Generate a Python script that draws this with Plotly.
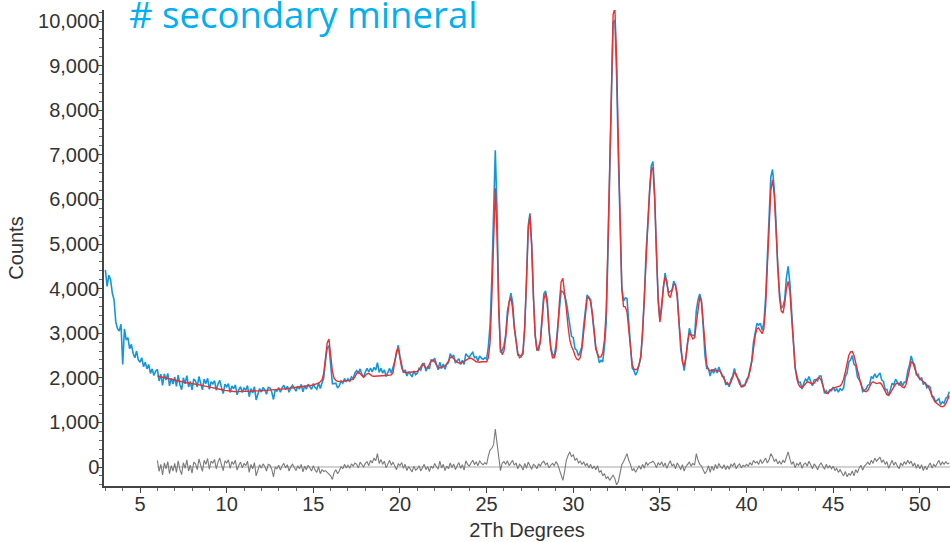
import numpy as np
import plotly.graph_objects as go

# 2-theta grids (step 0.1 deg)
obs_start, calc_start, step = 3.0, 6.0, 0.1

# Observed counts, 3.0 .. 51.7
observed = [
    4420, 4050, 4300, 4200, 3900, 3750, 3250, 3100, 3050, 3200,
    2300, 3100, 2850, 2900, 2650, 2750, 2550, 2450, 2600, 2400,
    2350, 2450, 2250, 2350, 2200, 2300, 2100, 2200, 2050, 2150,
    2190, 1930, 2080, 1830, 2090, 1950, 2100, 1820, 1990, 1860,
    2020, 1810, 2060, 1850, 1735, 2000, 1865, 2050, 1795, 1918,
    1730, 1975, 1930, 1795, 2028, 1860, 1730, 1970, 1870, 1990,
    1740, 1912, 1864, 1936, 1718, 1860, 1942, 1784, 1646, 1858,
    1800, 1866, 1672, 1818, 1754, 1840, 1620, 1730, 1800, 1670,
    1770, 1722, 1824, 1576, 1758, 1660, 1802, 1504, 1646, 1758,
    1680, 1784, 1728, 1632, 1786, 1770, 1682, 1514, 1736, 1698,
    1780, 1674, 1778, 1832, 1736, 1810, 1674, 1778, 1832, 1746,
    1700, 1814, 1748, 1852, 1686, 1820, 1748, 1856, 1804, 1742,
    1870, 1780, 1745, 1890, 1760, 1890, 2000, 2370, 2660, 2720,
    2300, 1870, 1870, 1880, 1770, 1825, 1925, 1880, 1985, 1910,
    1975, 1910, 2020, 1985, 2110, 2160, 2110, 2200, 2080, 2010,
    2130, 2210, 2130, 2220, 2130, 2235, 2175, 2340, 2120, 2215,
    2105, 2180, 2030, 2145, 2210, 2105, 2230, 2370, 2540, 2730,
    2480, 2320, 2110, 2180, 2040, 2135, 2080, 2020, 2155, 2070,
    2100, 2210, 2170, 2290, 2330, 2150, 2240, 2200, 2400, 2370,
    2440, 2300, 2180, 2350, 2210, 2310, 2190, 2320, 2340, 2540,
    2460, 2510, 2330, 2380, 2430, 2300, 2390, 2300, 2540, 2490,
    2460, 2530, 2570, 2450, 2470, 2380, 2490, 2440, 2410, 2450,
    2420, 2700, 3180, 4220, 5800, 7100, 5760, 3650, 2570, 2610,
    2720, 2960, 3490, 3730, 3900, 3700, 3140, 2840, 2510, 2510,
    2490, 2530, 3180, 4170, 5410, 5690, 4950, 3860, 2980, 2610,
    2690, 2820, 3350, 3880, 3950, 3740, 3080, 2690, 2530, 2480,
    2720, 3110, 3650, 3950, 3930, 3850, 3700, 3410, 3190, 2930,
    2900, 2650, 2620, 2490, 2580, 2710, 3160, 3530, 3860, 3790,
    3760, 3410, 3070, 2640, 2550, 2340, 2390, 2360, 2700, 3240,
    4780, 6600, 8450, 9970, 10020, 8800, 6970, 5150, 4050, 3720,
    3790, 3780, 3200, 2660, 2220, 2160, 2060, 2140, 2330, 2450,
    3060, 3770, 4810, 5540, 6290, 6750, 6850, 6080, 4780, 3800,
    3290, 3670, 4060, 4350, 4120, 3910, 3940, 3970, 4170, 4060,
    3890, 3280, 2640, 2400, 2160, 2460, 2860, 3110, 2970, 2950,
    2940, 3500, 3750, 3880, 3720, 3140, 2500, 2210, 2210, 2040,
    2190, 2100, 2220, 2110, 2240, 2140, 2030, 2020, 1840, 1890,
    1800, 1960, 2040, 2210, 2040, 1990, 1930, 1790, 1840, 1840,
    1960, 2020, 2250, 2390, 2800, 3040, 3220, 3180, 3220, 3070,
    3230, 3800, 4590, 5660, 6500, 6670, 6220, 5480, 4470, 3930,
    3560, 3600, 3750, 4240, 4500, 4130, 3410, 2820, 2230, 2060,
    1890, 1900, 1750, 1880, 1970, 1930, 2030, 1920, 1820, 1950,
    1960, 1930, 2040, 2040, 1840, 1650, 1710, 1640, 1730, 1710,
    1790, 1700, 1760, 1680, 1760, 1720, 1770, 2030, 2110, 2350,
    2400, 2500, 2300, 2270, 2020, 1960, 1890, 1690, 1720, 1750,
    1830, 1850, 2030, 1990, 2090, 2000, 2060, 2110, 1950, 1920,
    1730, 1740, 1590, 1740, 1880, 1840, 1970, 1900, 1830, 1920,
    1820, 1900, 1910, 2150, 2280, 2490, 2350, 2290, 2070, 2080,
    1950, 2010, 1850, 1900, 1780, 1820, 1790, 1580, 1570, 1460,
    1500, 1530, 1400, 1460, 1430, 1540, 1570, 1690,
]

# Calculated counts, 6.0 .. 51.7
calculated = [
    2040, 2030, 2020, 2010, 2000, 1990, 1980, 1970, 1960, 1950,
    1940, 1930, 1920, 1910, 1905, 1900, 1895, 1890, 1885, 1878,
    1870, 1865, 1860, 1855, 1848, 1840, 1830, 1820, 1810, 1800,
    1790, 1782, 1774, 1766, 1758, 1750, 1742, 1734, 1726, 1718,
    1710, 1706, 1702, 1698, 1694, 1690, 1690, 1690, 1690, 1690,
    1690, 1692, 1694, 1696, 1698, 1700, 1702, 1704, 1706, 1708,
    1710, 1714, 1718, 1722, 1726, 1730, 1732, 1734, 1736, 1738,
    1740, 1744, 1748, 1752, 1756, 1760, 1764, 1768, 1772, 1776,
    1780, 1784, 1788, 1792, 1796, 1800, 1808, 1816, 1824, 1832,
    1840, 1850, 1865, 1880, 1910, 1950, 2100, 2450, 2780, 2870,
    2500, 2150, 1990, 1940, 1920, 1915, 1915, 1920, 1925, 1930,
    1935, 1940, 1950, 1965, 2020, 2100, 2130, 2090, 2030, 2010,
    2050, 2090, 2100, 2070, 2040, 2035, 2035, 2040, 2040, 2045,
    2045, 2050, 2050, 2055, 2060, 2065, 2120, 2350, 2600, 2660,
    2450, 2220, 2140, 2120, 2120, 2125, 2130, 2130, 2135, 2140,
    2140, 2180, 2260, 2310, 2270, 2210, 2230, 2300, 2380, 2400,
    2360, 2290, 2230, 2220, 2230, 2250, 2270, 2300, 2380, 2450,
    2470, 2440, 2390, 2350, 2330, 2330, 2340, 2370, 2400, 2430,
    2440, 2440, 2420, 2390, 2360, 2350, 2350, 2360, 2360, 2350,
    2360, 2450, 2800, 3800, 5300, 6250, 5200, 3500, 2650, 2520,
    2600, 2900, 3350, 3700, 3800, 3550, 3100, 2750, 2550, 2450,
    2470, 2600, 3100, 4200, 5300, 5650, 5000, 3800, 2950, 2650,
    2620, 2800, 3250, 3750, 3900, 3650, 3100, 2650, 2450, 2450,
    2600, 3050, 3700, 4150, 4230, 3950, 3550, 3150, 2850, 2700,
    2620, 2500, 2420, 2400, 2450, 2650, 3050, 3500, 3780, 3810,
    3700, 3450, 3050, 2700, 2520, 2460, 2470, 2560, 2850, 3500,
    5000, 6900, 8700, 10150, 10280, 9200, 7300, 5300, 4000, 3600,
    3590, 3480, 3050, 2600, 2300, 2200, 2180, 2200, 2300, 2500,
    3000, 3800, 4700, 5500, 6200, 6650, 6720, 6000, 4800, 3700,
    3250, 3550, 4050, 4260, 4150, 3850, 3800, 3950, 4100, 4100,
    3800, 3250, 2700, 2350, 2250, 2450, 2800, 3000, 2950, 2870,
    2900, 3200, 3600, 3820, 3700, 3200, 2650, 2300, 2180, 2160,
    2170, 2180, 2160, 2150, 2160, 2130, 2060, 1970, 1900, 1860,
    1850, 1900, 2020, 2120, 2080, 1960, 1860, 1810, 1800, 1830,
    1900, 2000, 2150, 2350, 2650, 2950, 3100, 3120, 3050, 2990,
    3100, 3600, 4500, 5500, 6200, 6440, 6100, 5300, 4400, 3800,
    3500, 3450, 3650, 4000, 4160, 3950, 3350, 2700, 2250, 1980,
    1850, 1790, 1780, 1820, 1880, 1910, 1900, 1870, 1860, 1880,
    1940, 1990, 2000, 1950, 1830, 1700, 1650, 1660, 1700, 1750,
    1770, 1780, 1790, 1800, 1820, 1870, 1970, 2130, 2330, 2500,
    2580, 2590, 2500, 2330, 2150, 1980, 1850, 1760, 1700, 1690,
    1720, 1800, 1880, 1910, 1890, 1870, 1880, 1890, 1850, 1760,
    1670, 1620, 1620, 1660, 1730, 1800, 1860, 1880, 1870, 1830,
    1790, 1780, 1850, 2000, 2200, 2360, 2330, 2200, 2100, 2020,
    1990, 1960, 1930, 1880, 1840, 1790, 1700, 1600, 1510, 1450,
    1420, 1380, 1360, 1350, 1370, 1420, 1500, 1600,
]

# Difference curve (obs - calc), 6.0 .. 51.7
difference = [
    150, -100, 60, -180, 90, -40, 120, -150, 30, -90,
    80, -120, 140, -60, -170, 100, -30, 160, -90, 40,
    -140, 110, 70, -60, 180, 20, -100, 150, 60, 190,
    -50, 130, 90, 170, -40, 110, 200, 50, -80, 140,
    90, 160, -30, 120, 60, 150, -70, 40, 110, -20,
    80, 30, 130, -120, 60, -40, 100, -200, -60, 50,
    -30, 70, 10, -90, 60, 40, -50, -220, 0, -40,
    40, -70, 30, 80, -20, 50, -90, 10, 60, -30,
    -80, 30, -40, 60, -110, 20, -60, 40, -20, -90,
    30, -70, -120, 10, -150, -60, -100, -80, -120, -150,
    -200, -280, -120, -60, -150, -90, 10, -40, 60, -20,
    40, -30, 70, 20, 90, 60, -20, 110, 50, 0,
    80, 120, 30, 150, 90, 200, 140, 300, 80, 170,
    60, 130, -20, 90, 150, 40, 110, 20, -60, 70,
    30, 100, -30, 60, -80, 10, -50, -110, 20, -70,
    -40, 30, -90, -20, 60, -60, 10, -100, 20, -30,
    80, 10, -50, 130, -20, 60, -80, 20, -40, 90,
    -10, 70, -60, 30, 100, -30, 50, -70, 140, 60,
    20, 90, 150, 60, 110, 30, 140, 80, 50, 100,
    60, 250, 380, 420, 500, 850, 560, 150, -80, 90,
    120, 60, 140, 30, 100, 150, 40, 90, -40, 60,
    20, -70, 80, -30, 110, 40, -50, 60, 30, -40,
    70, 20, 100, 130, 50, 90, -20, 40, 80, 30,
    120, 60, -50, -200, -300, -100, 150, 260, 340, 230,
    280, 150, 200, 90, 130, 60, 110, 30, 80, -20,
    60, -40, 20, -60, 30, -120, -80, -200, -150, -260,
    -220, -300, -250, -180, -260, -400, -330, -150, 50, 120,
    200, 300, 150, 60, -80, -40, -120, -60, 30, -50,
    60, -30, 110, 40, 90, 100, 130, 80, -20, 100,
    40, 120, 10, 90, -30, 60, 140, 20, 70, -40,
    90, 30, -60, 50, -90, 10, 60, 110, 20, 80,
    40, 300, 150, 60, 20, -60, -150, -90, 30, -120,
    20, -80, 60, -40, 80, 10, -30, 50, -60, 30,
    -50, 60, 20, 90, -40, 30, 70, -20, 40, 10,
    60, 20, 100, 40, 150, 90, 120, 60, 170, 80,
    130, 200, 90, 160, 300, 230, 120, 180, 70, 130,
    60, 150, 100, 240, 340, 180, 60, 120, -20, 80,
    40, 110, -30, 60, 90, 20, 130, 50, -40, 70,
    20, -60, 40, 90, 10, -50, 60, -20, 30, -40,
    20, -80, -30, -120, -60, -150, -200, -100, -220, -150,
    -180, -90, -200, -60, -130, -20, 40, -70, 20, 60,
    110, 50, 150, 80, 200, 130, 180, 220, 100, 160,
    60, 120, -30, 80, 150, 40, 110, 20, -40, 90,
    30, 120, 60, 150, 80, 130, 20, 90, -30, 60,
    -40, 50, -80, 20, -60, 30, 90, -20, 60, 10,
    80, 150, 40, 110, 60, 120, 70, 90,
]

x_range = [2.92, 51.74]
y_range = [-426, 10247]
zero_line_x = [6.0, 51.74]
zero_line_y = [0, 0]

x_obs = np.round(obs_start + step * np.arange(len(observed)), 2)
x_calc = np.round(calc_start + step * np.arange(len(calculated)), 2)

fig = go.Figure()
fig.add_trace(go.Scatter(x=zero_line_x, y=zero_line_y, mode="lines",
                         line=dict(color="#a6a6a6", width=1.2), hoverinfo="skip"))
fig.add_trace(go.Scatter(x=x_calc, y=difference, mode="lines",
                         line=dict(color="#7a7a7a", width=1.1)))
fig.add_trace(go.Scatter(x=x_obs, y=observed, mode="lines",
                         line=dict(color="#1596dc", width=1.6)))
fig.add_trace(go.Scatter(x=x_calc, y=calculated, mode="lines",
                         line=dict(color="#ec2f2f", width=1.4)))

axis_font = dict(family="Liberation Sans, Arial, sans-serif", size=20, color="#333333")
title_font = dict(family="Liberation Sans, Arial, sans-serif", size=20, color="#333333")

fig.update_layout(
    width=950, height=542,
    margin=dict(l=104, r=0, t=10, b=56, autoexpand=False),
    plot_bgcolor="white", paper_bgcolor="white",
    showlegend=False,
    xaxis=dict(
        range=x_range, showgrid=False, zeroline=False, automargin=False,
        showline=True, linecolor="#444444", linewidth=1.5,
        ticks="outside", ticklen=5, tickcolor="#444444", tickwidth=1.2,
        tick0=0, dtick=5, tickfont=axis_font, ticklabelstandoff=-6,
        minor=dict(ticks="outside", dtick=1, ticklen=3, tickcolor="#666666", tickwidth=1),
        title=dict(text="2Th Degrees", font=title_font, standoff=9),
    ),
    yaxis=dict(
        range=y_range, showgrid=False, zeroline=False, automargin=False,
        showline=True, linecolor="#444444", linewidth=1.5,
        ticks="outside", ticklen=5, tickcolor="#444444", tickwidth=1.2,
        tick0=0, dtick=1000, tickformat=",d", tickfont=axis_font, ticklabelstandoff=-6,
        minor=dict(ticks="outside", dtick=200, ticklen=3, tickcolor="#666666", tickwidth=1),
        title=dict(text="Counts", font=title_font, standoff=9),
    ),
    annotations=[dict(
        text="# secondary mineral", xref="paper", yref="paper",
        x=0.027, y=0.991, xanchor="left", yanchor="middle", showarrow=False,
        font=dict(family="Open Sans", size=36.5, color="#00b0f0"),
    )],
)

fig.write_html(
    "out.html",
    config={"displayModeBar": False},
    post_script="document.body.style.margin='0';document.body.style.overflow='hidden';",
)
